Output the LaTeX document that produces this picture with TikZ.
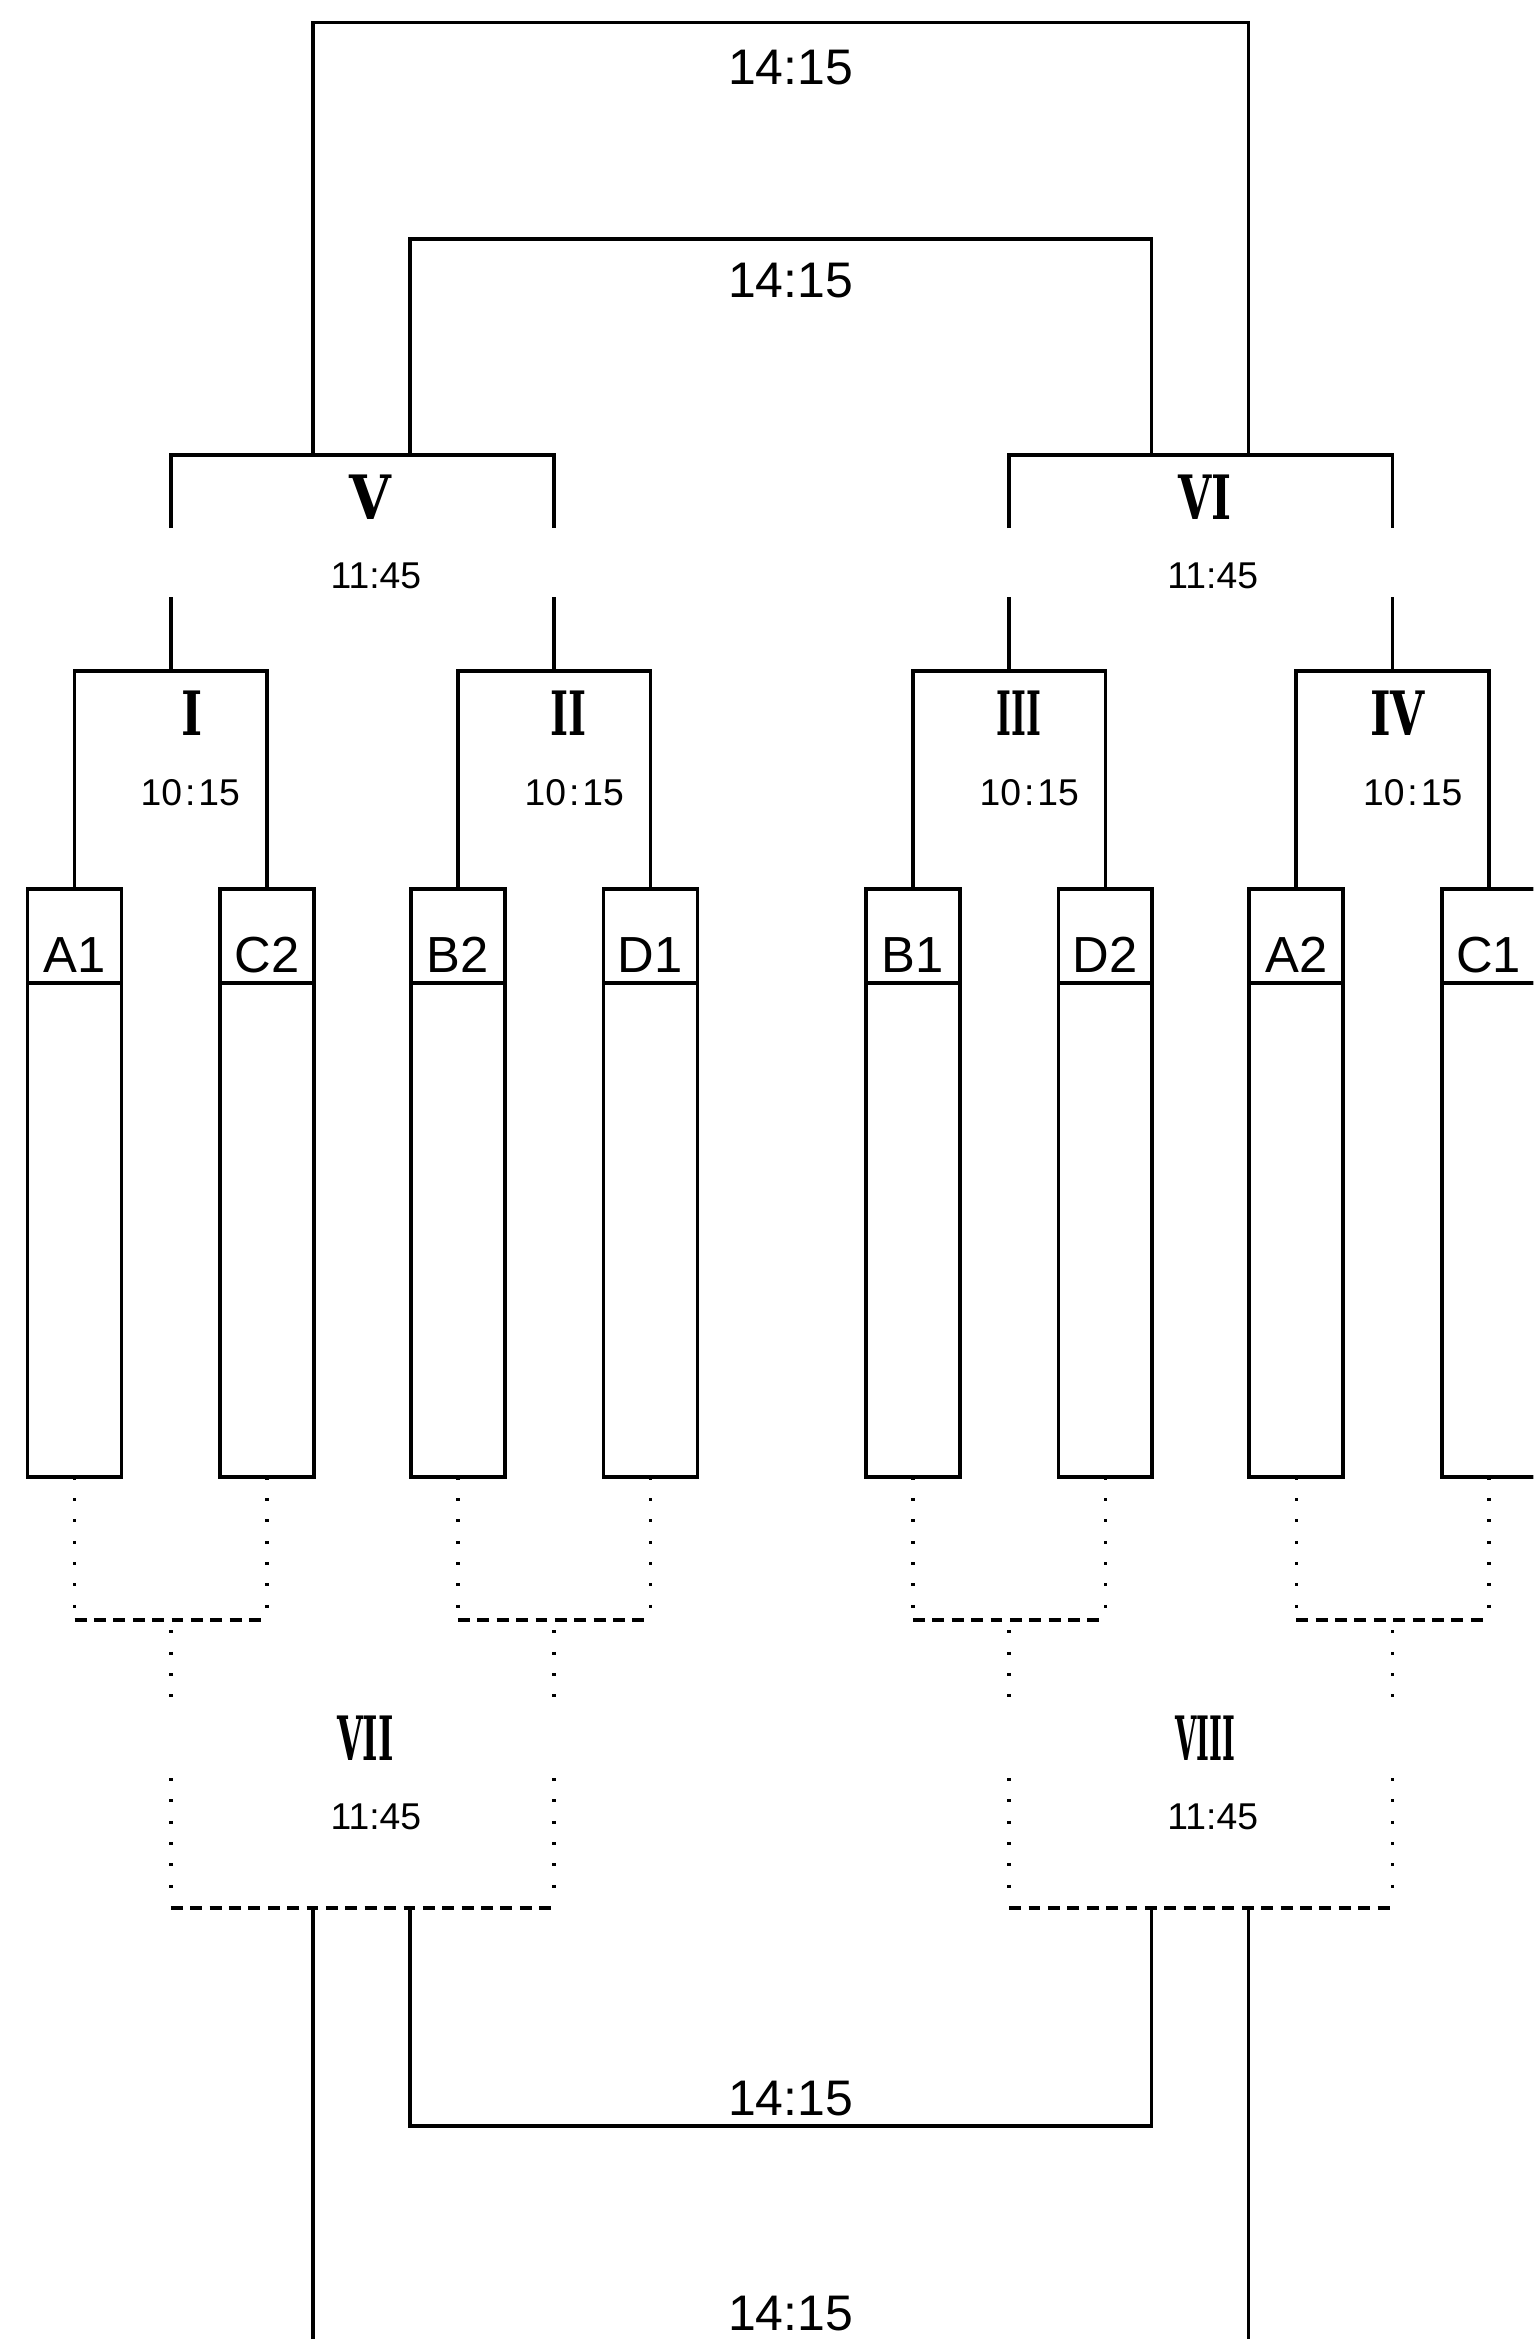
\documentclass[tikz,border=0pt]{standalone}
\usepackage{fontspec}
\setmainfont{Liberation Sans}
\newfontfamily\serifnum{DejaVu Serif}
\usepackage{graphicx}
\usetikzlibrary{positioning}

\newcommand{\rnum}[2]{\scalebox{#1}[1]{#2}}

\tikzset{
  bracketline/.style={line width=2.5pt},
  dotline/.style={line width=2.4pt, dash pattern=on 2pt off 12.3pt},
  dashline/.style={line width=2.2pt, dash pattern=on 8pt off 5pt},
  team/.style={draw, line width=2.5pt, minimum width=63pt, minimum height=394pt,
    inner sep=0pt, outer sep=0pt, anchor=north},
  teamname/.style={anchor=base, inner sep=0pt, font=\fontsize{34}{34}\selectfont},
  matchno/.style={inner sep=0pt, font=\serifnum\bfseries\fontsize{41}{41}\selectfont},
  kickoff/.style={inner sep=0pt, font=\fontsize{25}{25}\selectfont},
  final/.style={inner sep=0pt, font=\fontsize{33.5}{34}\selectfont}
}

\begin{document}
\begin{tikzpicture}[x=1pt, y=-1pt]

  \useasboundingbox (0,0) rectangle (1028,1568);
  \clip (0,0) rectangle (1028,1568);

  %teams:
  \foreach \t/\x in {A1/50,C2/179,B2/307,D1/436,B1/612,D2/741,A2/869,C1/998}{
    \node[team] (\t) at (\x,596) {};
    \draw[bracketline] ([yshift=-63pt]\t.north west) -- ([yshift=-63pt]\t.north east);
    \node[teamname] (\t-name) at ([yshift=-56pt]\t.north) {\t};
  }

  %first round:
  \coordinate (j1) at (114.5,450);
  \coordinate (j2) at (371.5,450);
  \coordinate (j3) at (676.5,450);
  \coordinate (j4) at (933.5,450);
  \draw[bracketline] (A1.north) |- (j1) -| (C2.north);
  \draw[bracketline] (B2.north) |- (j2) -| (D1.north);
  \draw[bracketline] (B1.north) |- (j3) -| (D2.north);
  \draw[bracketline] (A2.north) |- (j4) -| (C1.north);

  %second round, up
  \coordinate (j5) at (243,305);
  \coordinate (j6) at (805,305);
  \foreach \j in {j1,j2,j3,j4}{
    \draw[bracketline] (\j) -- ([yshift=50pt]\j);
  }
  \draw[bracketline] ([yshift=96pt]j1) |- (j5) -| ([yshift=96pt]j2);
  \draw[bracketline] ([yshift=96pt]j3) |- (j6) -| ([yshift=96pt]j4);

  %finals, up
  \coordinate (f1) at (523.5,15);
  \coordinate (f2) at (523.5,160);
  \draw[bracketline] ([xshift=-33pt]j5) |- (f1) -| ([xshift=32pt]j6);
  \draw[bracketline] ([xshift=32pt]j5) |- (f2) -| ([xshift=-33pt]j6);

  %second round, down
  \coordinate (k1) at (114.5,1086);
  \coordinate (k2) at (371.5,1086);
  \coordinate (k3) at (676.5,1086);
  \coordinate (k4) at (933.5,1086);
  \foreach \a/\b/\k in {A1/C2/k1,B2/D1/k2,B1/D2/k3,A2/C1/k4}{
    \draw[dotline] (\a.south) -- (\a.south |- \k);
    \draw[dotline] (\b.south) -- (\b.south |- \k);
    \draw[dashline] (\a.south |- \k) -- (\b.south |- \k);
  }

  \coordinate (k5) at (243,1279);
  \coordinate (k6) at (805,1279);
  \foreach \k in {k1,k2,k3,k4}{
    \draw[dotline] ([yshift=-7pt]\k) -- ([yshift=-52pt]\k);
    \draw[dotline] ([yshift=-106pt]\k) -- ([yshift=-186pt]\k);
  }
  \draw[dashline] (k1 |- k5) -- (k2 |- k5);
  \draw[dashline] (k3 |- k6) -- (k4 |- k6);

  %finals, down
  \coordinate (f3) at (523.5,1425);
  \coordinate (f4) at (523.5,1620);
  \draw[bracketline] ([xshift=32pt]k5) |- (f3) -| ([xshift=-33pt]k6);
  \draw[bracketline] ([xshift=-33pt]k5) |- (f4) -| ([xshift=32pt]k6);

  %match numbers
  \node[matchno] (m1) at (129,478) {\rnum{0.74}{I}};
  \node[matchno] (m2) at (381,478) {\rnum{0.63}{II}};
  \node[matchno] (m3) at (683,478) {\rnum{0.52}{III}};
  \node[matchno] (m4) at (937,478) {\rnum{0.72}{IV}};
  \node[matchno] (m5) at (248,333) {\rnum{0.88}{V}};
  \node[matchno] (m6) at (808,333) {\rnum{0.7}{VI}};
  \node[matchno] (m7) at (245,1165) {\rnum{0.54}{VII}};
  \node[matchno] (m8) at (808,1165) {\rnum{0.45}{VIII}};

  %times
  \node[kickoff] (s1) at (127.5,531.5) {10\kern2pt:\kern2pt15};
  \node[kickoff] (s2) at (385,531.5) {10\kern2pt:\kern2pt15};
  \node[kickoff] (s3) at (690,531.5) {10\kern2pt:\kern2pt15};
  \node[kickoff] (s4) at (947,531.5) {10\kern2pt:\kern2pt15};
  \node[kickoff] (s5) at (252,386) {11:45};
  \node[kickoff] (s6) at (813,386) {11:45};
  \node[kickoff] (s7) at (252,1218) {11:45};
  \node[kickoff] (s8) at (813,1218) {11:45};
  \node[final] (s9) at (530,45) {14:15};
  \node[final] (s10) at (530,188) {14:15};
  \node[final] (s11) at (530,1407) {14:15};
  \node[final] (s12) at (530,1551) {14:15};
\end{tikzpicture}
\end{document}
